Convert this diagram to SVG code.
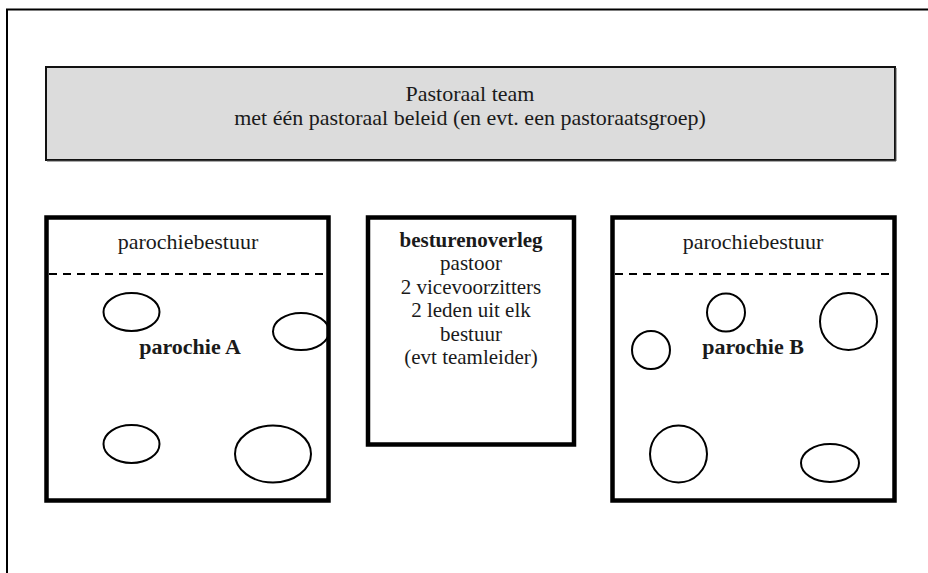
<svg xmlns="http://www.w3.org/2000/svg" width="928" height="573" viewBox="0 0 928 573">
<style>
text{font-family:"Liberation Serif","DejaVu Serif",serif;font-size:22px;fill:#1a1a1a;text-anchor:middle}
.m{font-size:21px}
.b{font-weight:bold}
.box{fill:#fff;stroke:#000;stroke-width:4.5}
.dash{stroke:#000;stroke-width:2;stroke-dasharray:8,6;fill:none}
.c{fill:none;stroke:#000;stroke-width:2}
</style>
<rect width="928" height="573" fill="#fff"/>
<path d="M7,573 V9.5 H928" fill="none" stroke="#000" stroke-width="2"/>
<g id="team">
<rect x="46" y="67" width="849" height="93" fill="#dcdcdc" stroke="#111" stroke-width="2"/>
<path d="M47,161 H896 V68" fill="none" stroke="#555" stroke-width="1"/>
<text x="470" y="101">Pastoraal team</text>
<text x="470" y="125">met één pastoraal beleid (en evt. een pastoraatsgroep)</text>
</g>
<g id="parochieA">
<rect class="box" x="46.5" y="217.5" width="282" height="283"/>
<line class="dash" x1="49" y1="274" x2="326" y2="274"/>
<text x="188" y="249">parochiebestuur</text>
<text class="b" x="190" y="354">parochie A</text>
<ellipse class="c" cx="131.5" cy="312" rx="28" ry="19"/>
<ellipse class="c" cx="301" cy="331.5" rx="28" ry="18.5"/>
<ellipse class="c" cx="131.5" cy="444" rx="28" ry="19"/>
<ellipse class="c" cx="273" cy="454" rx="38" ry="28.5"/>
</g>
<g id="besturenoverleg">
<rect class="box" x="368" y="217.5" width="206" height="227"/>
<text class="b m" x="471" y="247">besturenoverleg</text>
<text class="m" x="471" y="270">pastoor</text>
<text class="m" x="471" y="294">2 vicevoorzitters</text>
<text class="m" x="471" y="317">2 leden uit elk</text>
<text class="m" x="471" y="341">bestuur</text>
<text class="m" x="471" y="364">(evt teamleider)</text>
</g>
<g id="parochieB">
<rect class="box" x="612.5" y="217.5" width="282" height="283"/>
<line class="dash" x1="615" y1="274" x2="892" y2="274"/>
<text x="753" y="249">parochiebestuur</text>
<text class="b" x="753" y="354">parochie B</text>
<circle class="c" cx="726" cy="312.5" r="19"/>
<circle class="c" cx="848.5" cy="321.5" r="28.5"/>
<circle class="c" cx="651" cy="350" r="19"/>
<circle class="c" cx="678.5" cy="454" r="28.5"/>
<ellipse class="c" cx="830" cy="463" rx="29" ry="19"/>
</g>
<g id="connectors"/>
</svg>
